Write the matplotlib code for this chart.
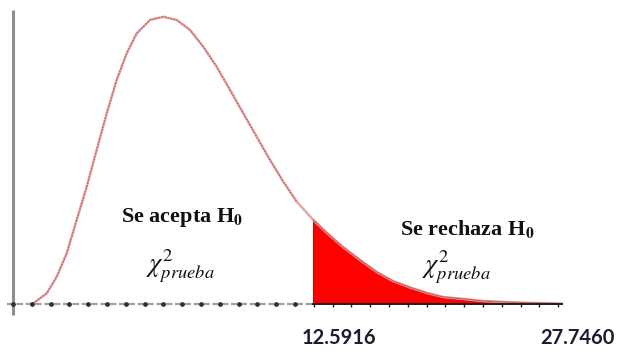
import numpy as np
import matplotlib
matplotlib.use("Agg")
import matplotlib.pyplot as plt

plt.rcParams["mathtext.fontset"] = "stix"

# ---- data (x in axis-tick units, y in density-like units) ----
curve_x = [0.904, 1.080, 1.793, 2.324, 2.856, 3.388, 3.920, 4.452, 4.984,
           5.516, 6.048, 6.580, 7.287, 7.995, 8.707, 9.415, 10.122, 10.835,
           11.543, 12.250, 12.963, 13.670, 14.378, 15.090, 15.973, 16.702,
           17.553, 18.457, 19.362, 20.213, 21.117, 22.021, 22.872, 23.936,
           25.000, 26.809, 29.202]
curve_y = [0.0000, 0.0003, 0.0050, 0.0128, 0.0238, 0.0395, 0.0551, 0.0724,
           0.0896, 0.1053, 0.1178, 0.1272, 0.1335, 0.1350, 0.1335, 0.1288,
           0.1209, 0.1115, 0.1006, 0.0896, 0.0786, 0.0677, 0.0575, 0.0481,
           0.0395, 0.0334, 0.0268, 0.0207, 0.0150, 0.0108, 0.0078, 0.0052,
           0.0033, 0.0024, 0.0014, 0.0007, 0.0002]
crit_x = 15.973
end_x = 29.202
tick_labels = ["12.5916", "27.7460"]
region_labels = ["Se acepta H$_{\\mathbf{0}}$", "Se rechaza H$_{\\mathbf{0}}$"]
stat_label = r"$\chi^2_{prueba}$"

curve_x = np.array(curve_x)
curve_y = np.array(curve_y)

k = 0.00047           # density units per pixel
u = 18.8              # pixels per tick unit

fig = plt.figure(figsize=(6.22, 3.56), dpi=100)
ax = fig.add_axes([0, 0, 1, 1])
ax.set_xlim(-13 / u, 609 / u)
ax.set_ylim(-52 * k, 304 * k)
ax.axis("off")

# vertical axis
ax.plot([0, 0], [-11 * k, 294 * k], color="#8e8e8e", lw=2.2, solid_capstyle="butt", zorder=1)

# rejection region
mask = curve_x >= crit_x
ax.fill_between(curve_x[mask], 0, curve_y[mask], color="#ff0000", lw=0, zorder=2)
ax.plot([crit_x, crit_x], [0, curve_y[mask][0]], color="#b01010", lw=0.8, zorder=3)

# curve
ax.plot(curve_x, curve_y, color="#e4a8a8", lw=1.8, zorder=3,
        solid_joinstyle="round", solid_capstyle="round")
ax.plot(curve_x[~mask], curve_y[~mask], color="#c86464", lw=1.0, ls=(0, (1.2, 1.0)), zorder=4)
ax.plot(curve_x[mask], curve_y[mask], color="#c86464", lw=0.9, zorder=4)

# baseline
ticks = np.arange(0, 30)
ax.plot([-6 / u, crit_x], [0, 0], color="#a0a0a0", lw=1.6, ls=(0, (3, 1.2)), zorder=3)
left_t = ticks[ticks < crit_x - 0.3]
ax.plot(left_t, np.zeros_like(left_t), "o", ms=2.4, color="#303030", zorder=5)
ax.plot([crit_x, end_x], [0, 0], color="#202020", lw=1.4, zorder=5)
right_t = ticks[(ticks > crit_x) & (ticks < end_x)]
ax.plot(right_t, np.zeros_like(right_t) - 1.2 * k, "|", ms=3.5, mew=1.0, color="#202020", zorder=5)

# region texts
tfont = dict(family="Liberation Serif", weight="bold", fontsize=16, color="#111111")
ax.text((182 - 13) / u, (304 - 222) * k, region_labels[0], ha="center", va="baseline", **tfont)
ax.text((467 - 13) / u, (304 - 235) * k, region_labels[1], ha="center", va="baseline", **tfont)
ax.text((180 - 13) / u, (304 - 266) * k, stat_label, ha="center", va="center", fontsize=19, color="#111111")
ax.text((456 - 13) / u, (304 - 267) * k, stat_label, ha="center", va="center", fontsize=19, color="#111111")

# tick labels
lfont = dict(family="Lato", weight="bold", fontsize=14.5, color="#1c1c30")
ax.annotate(tick_labels[0], xy=(crit_x, 0), xytext=(26, -34), textcoords="offset pixels",
            ha="center", va="center", **lfont)
ax.annotate(tick_labels[1], xy=(end_x, 0), xytext=(15, -34), textcoords="offset pixels",
            ha="center", va="center", **lfont)

fig.savefig("out.png", dpi=100)
